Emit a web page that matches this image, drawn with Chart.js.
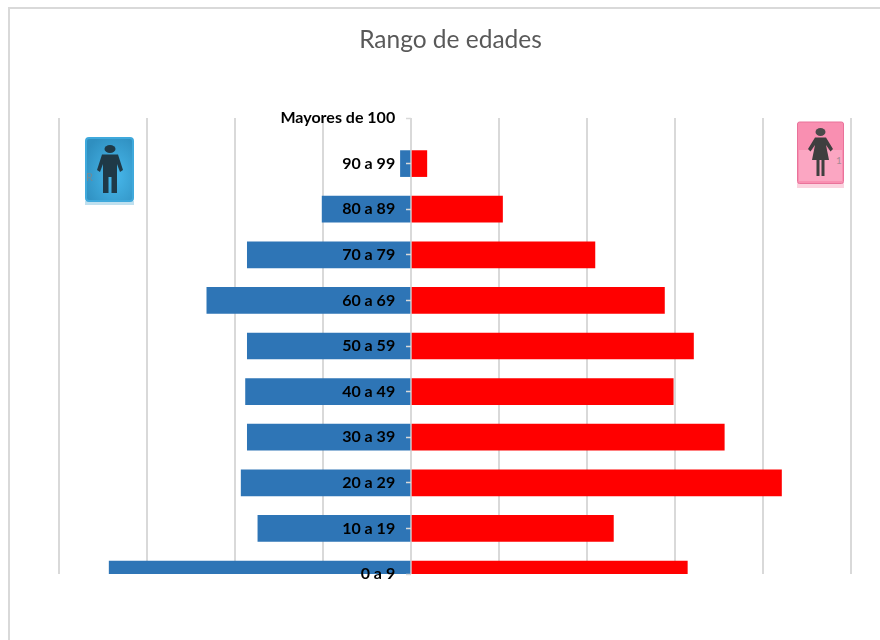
<!DOCTYPE html>
<html lang="es">
<head>
<meta charset="utf-8">
<title>Rango de edades</title>
<script src="https://cdn.jsdelivr.net/npm/chart.js@4"></script>
<style>
  html, body { margin: 0; padding: 0; background: #fff; overflow: hidden; }
  #caja { position: relative; width: 880px; height: 640px; overflow: hidden; }
  #marco { position: absolute; left: 8px; top: 7px; width: 900px; height: 700px; border: 2px solid #d9d9d9; }
  canvas { position: absolute; left: 0; top: 0; }
  .icono { position: absolute; }
</style>
</head>
<body>
<div id="caja">
  <div id="marco"></div>
  <canvas id="myChart" width="880" height="640"></canvas>

  <!-- icono hombre -->
  <svg class="icono" style="left:84px;top:136px" width="52" height="70" viewBox="0 0 52 70">
    <defs>
      <radialGradient id="fondoAzul" cx="0.6" cy="0.6" r="0.7">
        <stop offset="0" stop-color="#48b9ec"/><stop offset="1" stop-color="#2f8fc0"/>
      </radialGradient>
    </defs>
    <rect x="1" y="65" width="49" height="4" fill="#bfe0ef"/>
    <rect x="2" y="2" width="47" height="63" rx="3" fill="url(#fondoAzul)" stroke="#3fa9dc" stroke-width="2"/>
    <text x="2" y="45" font-family="Lato" font-size="11" fill="#6f8b99">R</text>
    <ellipse cx="26" cy="13" rx="5.500" ry="4" fill="#1f3947"/>
    <path d="M18 18.500 H34 L39 34 L36 36 L33 28 V57 H27.500 V41 H24.500 V57 H19 V28 L16 36 L13 34 Z" fill="#1f3947"/>
  </svg>

  <!-- icono mujer -->
  <svg class="icono" style="left:796px;top:121px" width="50" height="68" viewBox="0 0 50 68">
    <rect x="1" y="62" width="47" height="5" fill="#fbd3df"/>
    <rect x="1.500" y="1" width="46" height="61.500" rx="2" fill="#f98fb1" stroke="#e9729a" stroke-width="1"/>
    <rect x="3" y="29" width="43" height="31" fill="#fba6c2"/>
    <text x="40" y="43" font-family="Lato" font-size="10" fill="#a98a95">1</text>
    <ellipse cx="24.500" cy="11" rx="5" ry="4" fill="#4a4a4a"/>
    <path d="M19 16.500 H30 L37 28 L34.500 30.500 L30 24 L33 39 H28.500 V55 H25.500 V39 H23.500 V55 H20.500 V39 H16 L19 24 L14.500 30.500 L12 28 Z" fill="#3f3f3f"/>
  </svg>
</div>

<script>
// datos
const categorias = ['Mayores de 100', '90 a 99', '80 a 89', '70 a 79', '60 a 69', '50 a 59', '40 a 49', '30 a 39', '20 a 29', '10 a 19', '0 a 9'];
const hombres = [null, -12, -101, -186, -232, -186, -188, -186, -193, -174, -343];
const mujeres = [null, 18, 104, 209, 288, 321, 298, 356, 421, 230, 314];

const gris = '#d9d9d9';

// el titulo va centrado en el marco y no en el area del grafico
const centrarTitulo = {
    id: 'centrarTitulo',
    afterLayout(chart) {
        chart.titleBlock.left = 50;
    }
};

const ctx = document.getElementById('myChart').getContext('2d');

new Chart(ctx, {
    type: 'bar',
    data: {
        labels: categorias,
        datasets: [
            { label: 'Hombres', data: hombres, backgroundColor: '#2e75b6', barThickness: 26 },
            { label: 'Mujeres', data: mujeres, backgroundColor: '#ff0000', barThickness: 26 },
        ],
    },
    options: {
        indexAxis: 'y',
        responsive: false,
        animation: false,
        layout: {
            padding: { left: 59, right: 29, top: 0, bottom: 66 },
        },
        scales: {
            x: {
                stacked: true,
                min: -400,
                max: 500,
                ticks: { display: false, stepSize: 100 },
                border: { display: false },
                grid: { color: gris, lineWidth: 2, drawTicks: false },
            },
            // eje de las etiquetas, corrido un poco a la izquierda del cero
            y: {
                stacked: true,
                position: { x: -18 },
                offset: false,
                ticks: {
                    z: 1,
                    padding: 0,
                    color: '#000000',
                    autoSkip: false,
                    font: { family: 'Lato', size: 16, weight: 'bold' },
                },
                border: { display: false },
                grid: { display: false },
            },
            // eje de las marquitas sobre el cero
            yMarcas: {
                type: 'category',
                axis: 'y',
                position: { x: 0 },
                offset: false,
                ticks: { display: false },
                border: { display: false },
                grid: {
                    z: 1,
                    offset: false,
                    drawOnChartArea: false,
                    drawTicks: true,
                    tickLength: 5,
                    tickColor: gris,
                    tickWidth: 1.5,
                },
            },
        },
        plugins: {
            legend: { display: false },
            tooltip: { enabled: false },
            title: {
                display: true,
                text: 'Rango de edades',
                color: '#595959',
                font: { family: 'Lato', size: 24.5, weight: 'normal' },
                padding: { top: 25.3, bottom: 63.3 },
            },
        },
    },
    plugins: [centrarTitulo],
});
</script>
</body>
</html>
